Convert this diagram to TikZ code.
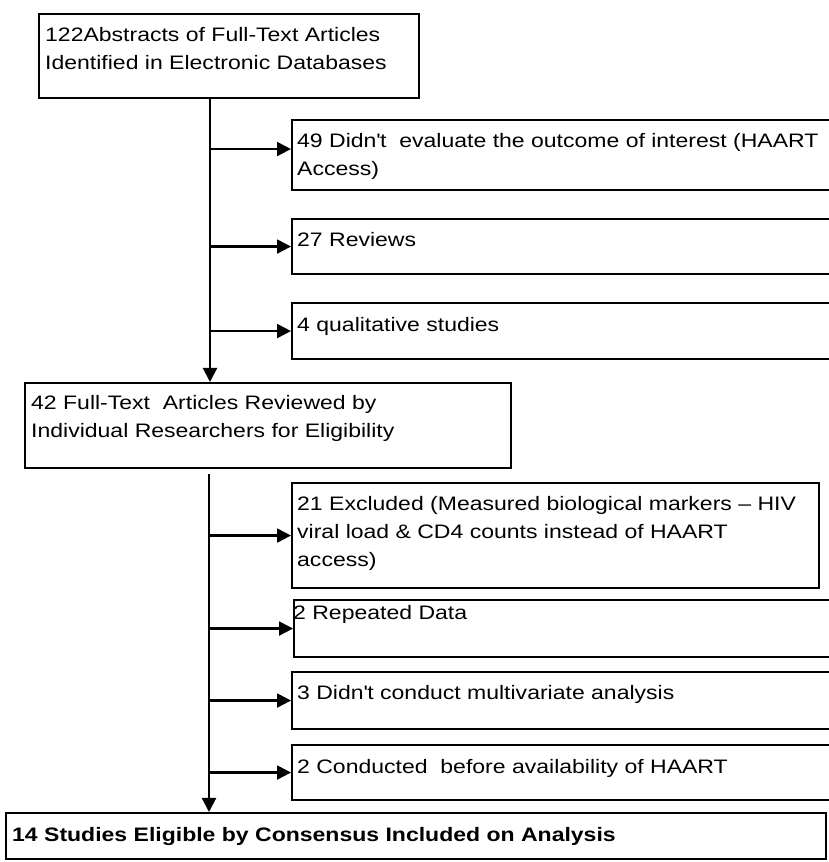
\documentclass[tikz,border=0pt]{standalone}
\usepackage{fontspec}
\setmainfont{Liberation Sans}[FakeStretch=1.18]
\usetikzlibrary{arrows.meta}

\tikzset{
	flowbox/.style={draw,line width=2.1pt,inner sep=0pt,anchor=north west},
	flowtext/.style={anchor=north west,inner sep=0pt,align=left,
		font=\fontsize{19.5}{28}\selectfont},
	flowarrow/.style={line width=2.1pt,-{Triangle[length=14pt,width=14pt]}}
}

\begin{document}
\begin{tikzpicture}[x=1pt,y=1pt]
				\def\W{829} \def\Hgt{862} \def\Wide{560pt}
				\path[use as bounding box] (0,0) rectangle (\W,\Hgt);
				\clip (0,0) rectangle (\W,\Hgt);
				% boxes, placed by their top left corner
				\node[flowbox,minimum width=380pt,minimum height=84pt] (abs) at (38,849) {};
				\node[flowbox,minimum width=\Wide,minimum height=70pt] (b49) at (291,743) {};
				\node[flowbox,minimum width=\Wide,minimum height=55pt] (b27) at (291,644) {};
				\node[flowbox,minimum width=\Wide,minimum height=56pt] (b4) at (291,560) {};
				\node[flowbox,minimum width=486pt,minimum height=85pt] (full) at (24,480) {};
				\node[flowbox,minimum width=527pt,minimum height=105pt] (b21) at (291,380) {};
				\node[flowbox,minimum width=\Wide,minimum height=57pt] (rep) at (293,263) {};
				\node[flowbox,minimum width=\Wide,minimum height=57pt] (multi) at (291,191) {};
				\node[flowbox,minimum width=\Wide,minimum height=55pt] (before) at (291,118) {};
				\node[flowbox,minimum width=820pt,minimum height=46pt] (final) at (5,50) {};
				% texts
				\node[flowtext,xshift=7pt,yshift=-14pt] (absT) at (abs.north west)
				{122Abstracts of Full-Text Articles\\Identified in Electronic Databases};
				\node[flowtext,xshift=6pt,yshift=-14pt] (b49T) at (b49.north west)
				{49 Didn\textquotesingle t\ \ evaluate the outcome of interest (HAART\\Access)};
				\node[flowtext,xshift=6pt,yshift=-14pt] (b27T) at (b27.north west) {27 Reviews};
				\node[flowtext,xshift=6pt,yshift=-15pt] (b4T) at (b4.north west) {4 qualitative studies};
				\node[flowtext,xshift=7pt,yshift=-13pt] (fullT) at (full.north west)
				{42 Full-Text\ \ Articles Reviewed by\\Individual Researchers for Eligibility};
				\node[flowtext,xshift=6pt,yshift=-14pt] (b21T) at (b21.north west)
				{21 Excluded (Measured biological markers -- HIV\\viral load \& CD4 counts instead of HAART\\access)};
				\node[flowtext,xshift=0pt,yshift=-6pt] (repT) at (rep.north west) {2 Repeated Data};
				\node[flowtext,xshift=6pt,yshift=-14pt] (multiT) at (multi.north west)
				{3 Didn\textquotesingle t conduct multivariate analysis};
				\node[flowtext,xshift=6pt,yshift=-15pt] (beforeT) at (before.north west)
				{2 Conducted\ \ before availability of HAART};
				\node[flowtext,xshift=7pt,yshift=-15pt] (finalT) at (final.north west)
				{\bfseries 14 Studies Eligible by Consensus Included on Analysis};
				% trunks and side arrows
				\path (abs.south west) ++(172,0) coordinate (trunkA);
				\path (full.south west) ++(185,-5) coordinate (trunkB);
				\draw[flowarrow] (trunkA) -- (trunkA |- full.north);
				\draw[flowarrow] (trunkB) -- (trunkB |- final.north);
				\foreach \b/\s in {b49/6,b27/0,b4/0}
				\draw[flowarrow] ([yshift=\s pt]trunkA |- \b.west) -- ([yshift=\s pt]\b.west);
				\foreach \b in {b21,rep,multi,before}
				\draw[flowarrow] (trunkB |- \b.west) -- (\b.west);
\end{tikzpicture}
\end{document}
